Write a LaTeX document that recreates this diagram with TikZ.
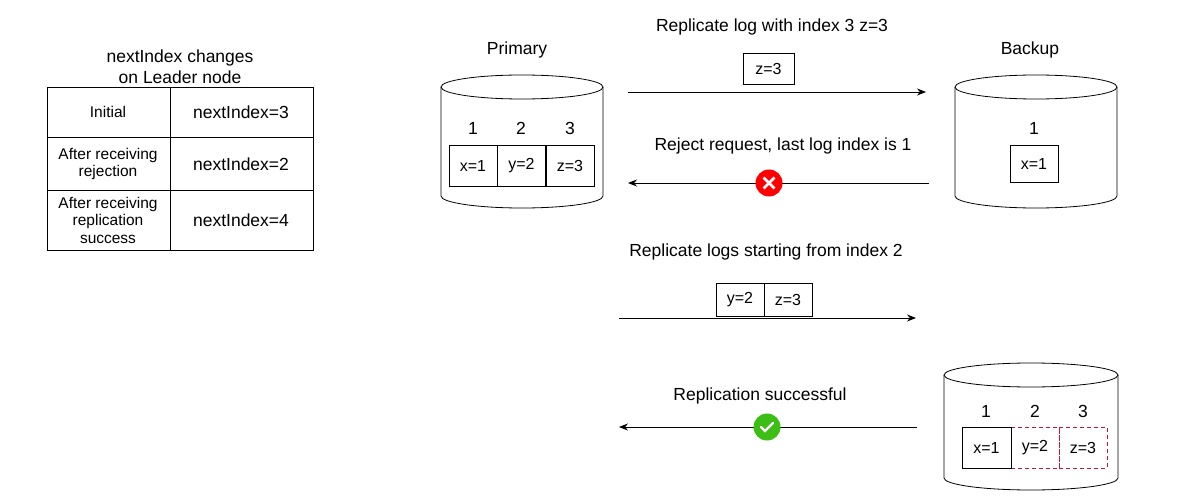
\documentclass[tikz,border=0pt]{standalone}
\usepackage{fontspec}
\setmainfont{Liberation Sans}
\usetikzlibrary{arrows.meta,calc}
\definecolor{dred}{RGB}{200,20,60}
\begin{document}
\begin{tikzpicture}[x=1pt,y=-1pt,
 big/.style={font=\fontsize{17.5}{21}\selectfont},
 cell/.style={font=\fontsize{16}{18}\selectfont},
 sm/.style={font=\fontsize{15.5}{17.5}\selectfont,align=center},
 bx/.style={draw,line width=0.8pt,minimum width=48pt,minimum height=40pt,cell,inner sep=0},
 dbx/.style={bx,draw=dred,dash pattern=on 4pt off 3pt},
 arr/.style={-{Stealth[length=9pt,width=7pt]},line width=0.8pt}]
\useasboundingbox (0,0) rectangle (1200,500);
\newcommand{\cyl}[5]{% left right ytop ybot ry
 \draw[line width=0.8pt] (#1,#3) -- (#1,#4) arc[start angle=180,end angle=0,x radius={(#2-#1)/2},y radius=#5] -- (#2,#3);
 \draw[line width=0.8pt] ({(#1+#2)/2},#3) ellipse[x radius={(#2-#1)/2},y radius=#5];}
% table
\node[big,align=center] (tt) at (180,67) {nextIndex changes\\on Leader node};
\draw[line width=0.8pt] (47,87) rectangle (313,250) (170,87)--(170,250) (47,137)--(313,137) (47,190)--(313,190);
\node[sm] (c1) at (108,112) {Initial};
\node[big] (d1) at (241,112) {nextIndex=3};
\node[sm] (c2) at (108,164) {After receiving\\rejection};
\node[big] (d2) at (241,164) {nextIndex=2};
\node[sm] (c3) at (108,220) {After receiving\\replication\\success};
\node[big] (d3) at (241,220) {nextIndex=4};
% primary
\cyl{441}{603}{87}{196}{12}
\node[big] (pl) at (517,50) {Primary};
\node[big] at (473,128) {1};\node[big] at (521,128) {2};\node[big] at (570,128) {3};
\node[bx,minimum height=41pt] (p1) at (473,165.5) {x=1};
\node[bx,minimum height=41pt] (p2) at (521.5,165.5) {y=2};
\node[bx,minimum height=41pt] (p3) at (570,165.5) {z=3};
% backup
\cyl{955}{1117}{87}{196}{12}
\node[big] (bl) at (1030,50) {Backup};
\node[big] at (1034,128) {1};
\node[bx,minimum height=37pt] (b1) at (1034,163.5) {x=1};
% backup 2
\cyl{944}{1118}{375}{478}{12}
\node[big] at (986,411) {1};\node[big] at (1035,411) {2};\node[big] at (1083,411) {3};
\node[dbx,minimum height=41pt] (q2) at (1035,447.5) {y=2};
\node[dbx,minimum height=41pt] (q3) at (1083,447.5) {z=3};
\node[bx,minimum height=41pt,minimum width=49pt] (q1) at (986.5,447.5) {x=1};
% messages
\node[big] (m1) at (772,27) {Replicate log with index 3 z=3};
\node[bx,minimum width=51pt,minimum height=31pt] (z) at (768.5,68.5) {z=3};
\coordinate (a1s) at (628,92); \coordinate (a1e) at (926,92);
\draw[arr] (a1s)--(a1e);
\node[big] (m2) at (783,146) {Reject request, last log index is 1};
\coordinate (a2s) at (929,183); \coordinate (a2e) at (628,183);
\draw[arr] (a2s)--(a2e);
\node[circle,fill=red,minimum size=27pt,inner sep=0] (x) at (769,183) {};
\draw[white,line width=2.6pt] ($(x)+(-5.5,-5.5)$)--($(x)+(5.5,5.5)$) ($(x)+(-5.5,5.5)$)--($(x)+(5.5,-5.5)$);
\node[big] (m3) at (766,252) {Replicate logs starting from index 2};
\node[bx,minimum height=33pt] (r1) at (740,299.5) {y=2};
\node[bx,minimum height=33pt] (r2) at (788,299.5) {z=3};
\coordinate (a3s) at (619,318); \coordinate (a3e) at (916,318);
\draw[arr] (a3s)--(a3e);
\node[big] (m4) at (760,396) {Replication successful};
\coordinate (a4s) at (917,427); \coordinate (a4e) at (619,427);
\draw[arr] (a4s)--(a4e);
\node[circle,fill={rgb,255:red,60;green,190;blue,20},minimum size=27pt,inner sep=0] (ok) at (767,427) {};
\draw[white,line width=2.2pt,line cap=round] ($(ok)+(-6,0)$)--($(ok)+(-2,4)$)--($(ok)+(6,-4)$);
\end{tikzpicture}
\end{document}
